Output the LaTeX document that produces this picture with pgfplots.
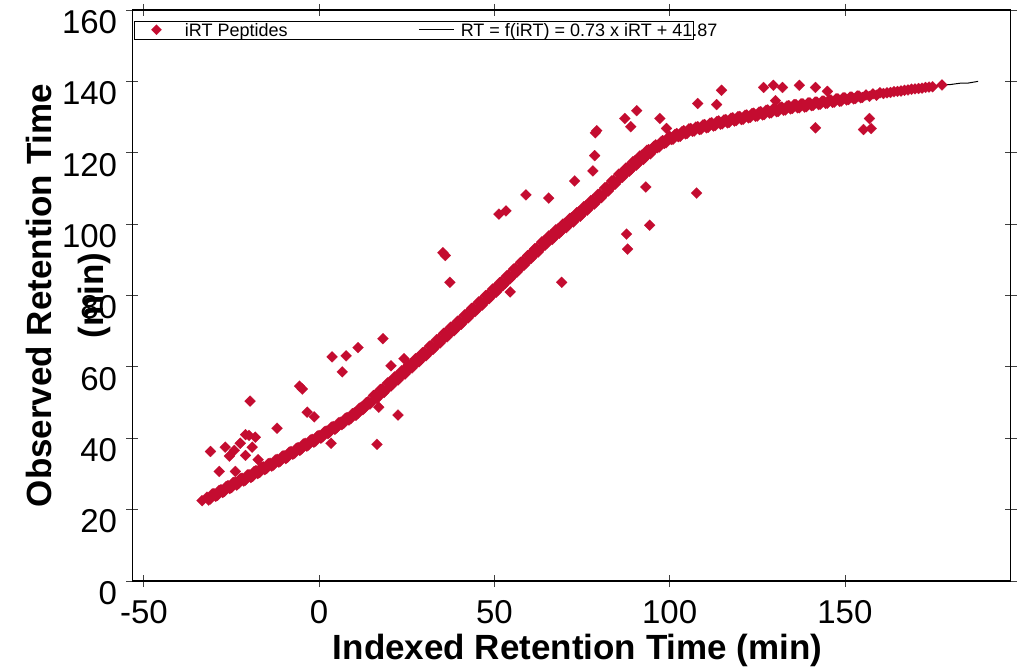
\documentclass[border=0pt]{standalone}
\usepackage{fontspec}
\setmainfont{Liberation Sans}
\usepackage{pgfplots}
\pgfplotsset{compat=1.18}
\definecolor{irtred}{RGB}{196,12,48}
\pgfplotsset{irtmarks/.style={irtred, only marks, mark=square*, mark size=3.9bp, mark options={rotate=45, fill=irtred, draw=irtred, line width=0.1bp}}}
\begin{document}
\begin{tikzpicture}
\path[use as bounding box] (-132.3bp,-90bp) rectangle (893.7bp,581bp);
\begin{axis}[
  at={(0,0)}, anchor=south west,
  scale only axis, width=878.4bp, height=571bp,
  xmin=-53.3, xmax=197.3, ymin=0, ymax=160,
  xtick={-50,0,50,100,150}, xticklabels={-50,0,50,100,150},
  ytick={0,20,40,60,80,100,120,140,160},
  yticklabels={0,20,40,60,80,100,120,140,160},
  tick align=center, major tick length=12bp,
  tick style={line width=0.8bp, black!75},
  axis line style={line width=1.2bp},
  ticklabel style={font=\fontsize{33bp}{38bp}\selectfont},
  yticklabel style={inner sep=0pt, anchor=east, xshift=-9bp, yshift=-12bp},
  xticklabel style={inner sep=0pt, anchor=north, yshift=-13bp},
  xlabel={Indexed Retention Time (min)},
  xlabel style={font=\bfseries\fontsize{35bp}{42bp}\selectfont, at={(axis description cs:0.507,-0.138)}, anchor=base},
  ylabel={Observed Retention Time\\(min)},
  ylabel style={font=\bfseries\fontsize{35bp}{52bp}\selectfont, align=center, at={(axis description cs:-0.0732,0.5)}, anchor=center},
  legend style={at={(rel axis cs:0.0019,0.9802)}, anchor=north west, draw=black, line width=0.6bp,
    inner xsep=0pt, inner ysep=0pt, legend columns=2,
    font=\fontsize{18bp}{20bp}\selectfont,
    nodes={inner sep=0pt, text height=15bp, text depth=2.7bp},
    /tikz/every even column/.style={column sep=0pt},
    /tikz/every odd column/.style={column sep=0pt}},
  legend cell align=left,
]
\addplot[black, line width=1bp, forget plot] coordinates {
(-33.5,22.5)(-30,24.0)(-20,29.3)(-10,34.6)(0,40.3)(10,46.6)(20,55.0)(30,63.5)(40,72.3)(50,81.3)(60,90.8)(70,99.5)(80,107.8)(90,117.0)(100,124.0)(110,127.4)(120,129.7)(130,131.9)(140,133.5)(150,135.0)(160,136.5)(170,137.9)(177.7,139.0)(180,139.1)(183,139.5)(185,139.5)(188,140.0)
};
\addplot[irtmarks,
  legend image code/.code={\path[draw=none] (0bp,0bp) -- (50.7bp,0bp);
    \draw plot[only marks, mark=square*, mark size=3.6bp, mark options={rotate=45, fill=irtred, draw=irtred, line width=0.1bp}] coordinates {(22.3bp,0.7bp)};}]
coordinates {
(-32,23.5)(-31,23.0)(-30,24.5)(-29,24.0)(-28,25.6)(-27,25.1)(-26,26.7)(-25,26.2)
(-24,27.7)(-23,27.3)(-22,28.8)(-21,28.3)(-20,29.8)
(-19,29.3)(-18,30.9)(-17,30.4)(-16,32.0)(-15,31.5)
(-14,33.0)(-13,32.5)(-12,34.1)(-11,33.6)(-10,35.1)
(-9,34.7)(-8,36.3)(-7,35.8)(-6,37.4)(-5,37.0)
(-4,38.6)(-3,38.1)(-2,39.7)(-1,39.2)(0,40.8)
(1,40.4)(2,42.0)(3,41.7)(4,43.3)(5,42.9)
(6,44.5)(7,44.2)(8,45.8)(9,45.5)(10,47.1)
(11,46.9)(12,48.7)(13,48.5)(14,50.3)(15,50.1)
(16,52.2)(17,51.7)(18,53.9)(19,53.4)(20,55.7)
(21,55.2)(22,57.4)(23,56.9)(24,59.1)(25,58.6)
(26,60.8)(27,60.3)(28,62.5)(29,62.0)(30,64.2)
(31,63.7)(32,66.0)(33,65.5)(34,67.8)(35,67.3)
(36,69.6)(37,69.0)(38,71.3)(39,70.7)(40,73.0)
(41,72.5)(42,74.8)(43,74.3)(44,76.6)(45,76.1)
(46,78.4)(47,77.9)(48,80.2)(49,79.7)(50,82.0)
(51,81.5)(52,83.9)(53,83.4)(54,85.8)(55,85.3)
(56,87.7)(57,87.2)(58,89.6)(59,89.1)(60,91.5)
(61,91.0)(62,93.3)(63,92.9)(64,95.2)(65,94.7)
(66,96.9)(67,96.3)(68,98.6)(69,98.0)(70,100.2)
(71,99.6)(72,101.8)(73,101.2)(74,103.4)(75,102.8)
(76,105.1)(77,104.5)(78,106.8)(79,106.2)(80,108.5)
(81,108.1)(82,110.4)(83,110.0)(84,112.3)(85,111.9)
(86,114.2)(87,113.7)(88,115.9)(89,115.4)(90,117.7)
(91,117.1)(92,119.3)(93,118.7)(94,120.9)(95,120.3)
(96,122.2)(97,121.6)(98,123.4)(99,122.8)(100,124.6)
(101,123.8)(102,125.4)(103,124.6)(104,126.2)(105,125.4)
(106,126.8)(107,126.1)(108,127.3)(109,126.6)(110,127.9)
(111,127.1)(112,128.4)(113,127.6)(114,128.9)(115,128.1)
(116,129.3)(117,128.5)(118,129.8)(119,129.0)(120,130.2)
(121,129.4)(122,130.6)(123,129.9)(124,131.1)(125,130.3)
(126,131.5)(127,130.7)(128,132.0)(129,131.2)(130,132.4)
(131,131.6)(132,132.8)(133,132.0)(134,133.2)(135,132.4)
(136,133.5)(137,132.6)(138,133.7)(139,132.9)(140,134.0)
(141,133.3)(142,134.2)(143,133.6)(144,134.5)(145,133.9)
(146,134.8)(147,134.2)(148,135.1)(149,134.5)(150,135.4)
(151,134.9)(152,135.6)(153,135.2)(154,135.9)(155,135.5)
(156,136.2)(157,135.8)(158,136.5)(159,136.1)(160,136.8)
(161,136.6)(162,136.8)(163,136.9)(164,137.1)(165,137.2)
(166,137.3)(167,137.5)(168,137.6)(169,137.8)(170,137.9)
(171,138.0)(172,138.1)(173,138.3)(174,138.4)(175,138.5)(177.7,139.0)
};
\addlegendentry{\makebox[233.3bp][l]{iRT Peptides}}
\addplot[irtmarks, forget plot] coordinates {
(-31.5,22.7)(-30.5,24.4)(-29.5,23.7)(-28.5,25.4)(-27.5,24.8)(-26.5,26.5)(-25.5,25.9)(-24.5,27.6)
(-23.5,26.9)(-22.5,28.7)(-21.5,28.0)(-20.5,29.7)(-19.5,29.0)(-18.5,30.7)(-17.5,30.1)(-16.5,31.8)
(-15.5,31.2)(-14.5,32.9)(-13.5,32.2)(-12.5,33.9)(-11.5,33.3)(-10.5,35.0)(-9.5,34.3)(-8.5,36.1)
(-7.5,35.5)(-6.5,37.2)(-5.5,36.6)(-4.5,38.4)(-3.5,37.8)(-2.5,39.5)(-1.5,38.9)(-0.5,40.6)
(0.5,40.0)(1.5,41.8)(2.5,41.3)(3.5,43.1)(4.5,42.5)(5.5,44.3)(6.5,43.8)(7.5,45.6)
(8.5,45.1)(9.5,46.9)(10.5,46.4)(11.5,48.4)(12.5,48.0)(13.5,50.0)(14.5,49.6)(15.5,52.0)
(16.5,51.1)(17.5,53.7)(18.5,52.8)(19.5,55.5)(20.5,54.6)(21.5,57.2)(22.5,56.3)(23.5,58.9)
(24.5,58.0)(25.5,60.6)(26.5,59.7)(27.5,62.3)(28.5,61.4)(29.5,64.0)(30.5,63.1)(31.5,65.8)
(32.5,64.9)(33.5,67.6)(34.5,66.7)(35.5,69.4)(36.5,68.4)(37.5,71.1)(38.5,70.1)(39.5,72.8)
(40.5,71.9)(41.5,74.6)(42.5,73.7)(43.5,76.4)(44.5,75.5)(45.5,78.2)(46.5,77.3)(47.5,80.0)
(48.5,79.1)(49.5,81.8)(50.5,80.9)(51.5,83.6)(52.5,82.8)(53.5,85.5)(54.5,84.7)(55.5,87.4)
(56.5,86.6)(57.5,89.3)(58.5,88.5)(59.5,91.2)(60.5,90.4)(61.5,93.1)(62.5,92.2)(63.5,95.0)
(64.5,94.1)(65.5,96.7)(66.5,95.7)(67.5,98.4)(68.5,97.4)(69.5,100.0)(70.5,99.0)(71.5,101.6)
(72.5,100.6)(73.5,103.2)(74.5,102.2)(75.5,104.9)(76.5,103.9)(77.5,106.6)(78.5,105.6)(79.5,108.3)
(80.5,107.4)(81.5,110.2)(82.5,109.3)(83.5,112.1)(84.5,111.2)(85.5,114.0)(86.5,113.1)(87.5,115.7)
(88.5,114.8)(89.5,117.5)(90.5,116.5)(91.5,119.1)(92.5,118.1)(93.5,120.7)(94.5,119.7)(95.5,121.8)
(96.5,121.4)(97.5,123.0)(98.5,122.6)(99.5,124.2)(100.5,123.7)(101.5,125.1)(102.5,124.5)(103.5,125.9)
(104.5,125.3)(105.5,126.7)(106.5,126.0)(107.5,127.2)(108.5,126.5)(109.5,127.8)(110.5,127.0)(111.5,128.3)
(112.5,127.5)(113.5,128.8)(114.5,128.0)(115.5,129.2)(116.5,128.4)(117.5,129.7)(118.5,128.9)(119.5,130.1)
(120.5,129.3)(121.5,130.5)(122.5,129.8)(123.5,131.0)(124.5,130.2)(125.5,131.4)(126.5,130.6)(127.5,131.9)
(128.5,131.1)(129.5,132.3)(130.5,131.5)(131.5,132.7)(132.5,131.9)(133.5,133.1)(134.5,132.3)(135.5,133.5)
(136.5,132.6)(137.5,133.7)(138.5,132.8)(139.5,134.0)(140.5,133.2)(141.5,134.2)(142.5,133.5)(143.5,134.5)
(144.5,133.8)(145.5,134.8)(146.5,134.1)(147.5,135.1)(148.5,134.4)(149.5,135.4)(150.5,134.8)(151.5,135.6)
(152.5,135.1)(153.5,135.9)(154.5,135.4)
};
\addplot[irtmarks, forget plot] coordinates {
(-33.4,22.5)(-31,36.3)(-28.5,30.7)(-26.8,37.5)(-25.6,35.0)(-23.9,30.7)(-24.2,36.6)(-22.5,38.6)(-21,41.0)(-20,40.8)(-18.2,40.3)(-19.1,37.5)(-21,35.2)(-17.4,34.0)(-19.7,50.4)(-12,42.8)(-5.6,54.6)(-4.8,53.8)(-3.4,47.3)(-1.4,46.0)(3.7,62.8)(7.7,63.1)(6.6,58.6)(11.1,65.4)(18.2,67.9)(20.5,60.3)(24.2,62.3)(22.5,46.5)(16.5,38.3)(3.4,38.6)(17,48.7)
(37.3,83.7)(35.3,92.0)(36,91.2)(51.3,102.8)(53.3,103.7)(59,108.2)(65.5,107.3)(69.2,83.7)(54.5,81.0)(72.9,112.1)(79.2,126.2)(78.8,125.6)(78.6,119.2)(78.1,114.9)(87.2,129.6)(90.6,131.8)(88.9,127.3)(87.7,97.2)(88,93.0)(94.3,99.7)(93.2,110.4)(97.2,129.6)(99.1,126.8)
(108,133.8)(107.7,108.7)(113.4,133.5)(114.8,137.5)(126.8,138.3)(129.6,138.9)(132.2,138.3)(137,138.9)(141.6,138.3)(145,137.2)(130.2,134.6)(141.6,127.0)(157,129.6)(155.3,126.5)(157.5,126.8)
};
\addlegendimage{black, line width=1bp, legend image code/.code={\path[draw=none] (0bp,0bp) -- (42bp,0bp); \draw (0bp,1.3bp) -- (35bp,1.3bp);}}
\addlegendentry{\makebox[233bp][l]{RT = f(iRT) = 0.73 x iRT + 41.87}}
\end{axis}
\end{tikzpicture}
\end{document}
